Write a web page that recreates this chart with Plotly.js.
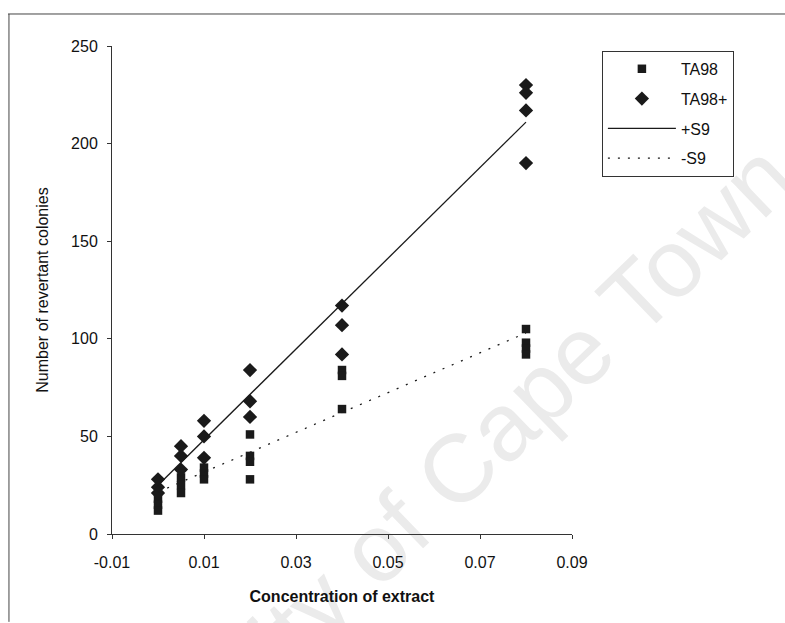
<!DOCTYPE html>
<html>
<head>
<meta charset="utf-8">
<script src="https://cdn.plot.ly/plotly-3.0.1.min.js"></script>
<style>
html,body{margin:0;padding:0;background:#fff;}
#wrap{position:relative;width:785px;height:623px;overflow:hidden;background:#fff;}
#wm{position:absolute;left:405px;top:520px;transform:translate(-50%,-50%) rotate(-44deg);
    white-space:nowrap;font-family:'Liberation Sans',Arial,sans-serif;font-size:96px;color:#ebebeb;line-height:1;}
#chart{position:absolute;left:0;top:0;width:785px;height:623px;}
</style>
</head>
<body>
<div id="wrap">
<div id="wm">University of Cape Town</div>
<div id="chart"></div>
</div>
<script>
// Concentration of extract for each replicate (TA98, no S9)
const ta98X = [0, 0, 0, 0.005, 0.005, 0.005, 0.01, 0.01, 0.01, 0.02, 0.02, 0.02, 0.02, 0.04, 0.04, 0.04, 0.08, 0.08, 0.08, 0.08];
const ta98Y = [18, 15, 12, 29, 25, 21, 34, 31, 28, 51, 40, 37, 28, 84, 81, 64, 105, 98, 95, 92];
// TA98 with S9 (TA98+)
const ta98PlusX = [0, 0, 0, 0.005, 0.005, 0.005, 0.01, 0.01, 0.01, 0.02, 0.02, 0.02, 0.04, 0.04, 0.04, 0.08, 0.08, 0.08, 0.08];
const ta98PlusY = [28, 24, 21, 45, 40, 33, 58, 50, 39, 84, 68, 60, 117, 107, 92, 230, 226, 217, 190];
// Linear trend lines
const trendX = [0, 0.08];
const plusS9Y = [25, 211];
const minusS9Y = [21.5, 103];
// Axis ticks
const xTickVals = [-0.01, 0.01, 0.03, 0.05, 0.07, 0.09];
const xTickLabels = ['-0.01', '0.01', '0.03', '0.05', '0.07', '0.09'];
const yTickVals = [0, 50, 100, 150, 200, 250];
const yTickLabels = ['0', '50', '100', '150', '200', '250'];

const FONT = 'Liberation Sans, Arial, Helvetica, sans-serif';
const INK = '#1a1a1a';

const traces = [
  {x: ta98X, y: ta98Y, name: 'TA98', type: 'scatter', mode: 'markers', legendgroup: 'a',
   marker: {symbol: 'square', size: 8.5, color: INK}},
  {x: ta98PlusX, y: ta98PlusY, name: 'TA98+', type: 'scatter', mode: 'markers', legendgroup: 'b',
   marker: {symbol: 'diamond', size: 11, color: INK}},
  {x: trendX, y: plusS9Y, name: '+S9', type: 'scatter', mode: 'lines', legendgroup: 'c',
   line: {color: INK, width: 1.3}},
  {x: trendX, y: minusS9Y, name: '-S9', type: 'scatter', mode: 'lines', legendgroup: 'd',
   line: {color: INK, width: 1.3, dash: '2px,8px'}}
];

const layout = {
  width: 785, height: 623,
  margin: {l: 112, r: 213, t: 46, b: 89},
  paper_bgcolor: 'rgba(0,0,0,0)', plot_bgcolor: 'rgba(0,0,0,0)',
  font: {family: FONT, size: 16, color: '#111'},
  showlegend: true,
  legend: {
    x: 1.065, y: 0.99, xanchor: 'left', yanchor: 'top',
    bordercolor: '#333', borderwidth: 1, bgcolor: '#fff',
    font: {family: FONT, size: 16, color: '#111'},
    itemwidth: 68, tracegroupgap: 6
  },
  xaxis: {
    range: [-0.01, 0.09], tickvals: xTickVals, ticktext: xTickLabels,
    ticks: 'outside', ticklen: 4, tickcolor: '#333',
    showline: true, linecolor: '#333', linewidth: 1,
    showgrid: false, zeroline: false, ticklabelstandoff: 10,
    tickfont: {family: FONT, size: 16, color: '#111'},
    title: {text: '<b>Concentration of extract</b>', font: {family: FONT, size: 16, color: '#111'}, standoff: 20}
  },
  yaxis: {
    range: [0, 250], tickvals: yTickVals, ticktext: yTickLabels,
    ticks: 'outside', ticklen: 4, tickcolor: '#333',
    showline: true, linecolor: '#333', linewidth: 1,
    showgrid: false, zeroline: false, ticklabelstandoff: 6,
    tickfont: {family: FONT, size: 16, color: '#111'},
    title: {text: 'Number of revertant colonies', font: {family: FONT, size: 16, color: '#111'}, standoff: 18}
  },
  shapes: [
    {type: 'line', xref: 'paper', yref: 'paper', x0: -0.226, x1: 1.465, y0: 1.0656, y1: 1.0656,
     line: {color: '#444', width: 1}},
    {type: 'line', xref: 'paper', yref: 'paper', x0: -0.224, x1: -0.224, y0: 1.0656, y1: -0.18,
     line: {color: '#444', width: 1}}
  ]
};

Plotly.newPlot('chart', traces, layout, {displayModeBar: false, staticPlot: true});
</script>
</body>
</html>
